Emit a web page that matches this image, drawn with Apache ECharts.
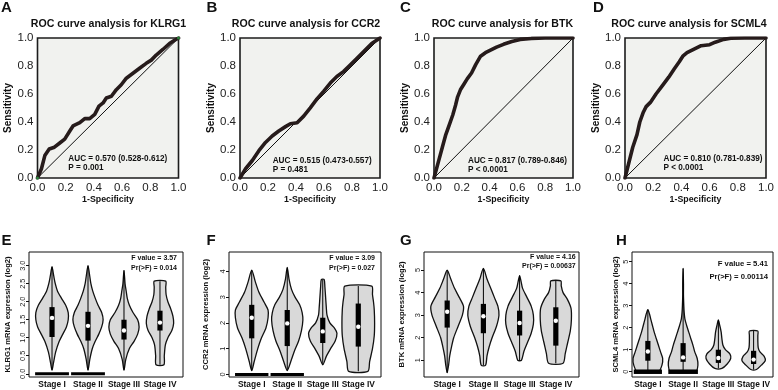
<!DOCTYPE html>
<html>
<head>
<meta charset="utf-8">
<script src="https://cdn.jsdelivr.net/npm/echarts@6/dist/echarts.min.js"></script>
<style>
html, body { margin: 0; padding: 0; background: #fff; }
#chart { width: 778px; height: 390px; }
</style>
</head>
<body>
<div id="chart"></div>
<script>
const FONT = '"Liberation Sans", Arial, Helvetica, sans-serif';

// ROC curves, points are [1-specificity, sensitivity]
const rocKLRG1 = [[0,0],[0.028,0.066],[0.052,0.16],[0.083,0.207],[0.12,0.22],[0.158,0.25],[0.193,0.278],[0.229,0.336],[0.252,0.372],[0.3,0.395],[0.335,0.424],[0.37,0.424],[0.406,0.454],[0.436,0.513],[0.465,0.536],[0.488,0.572],[0.524,0.584],[0.559,0.631],[0.594,0.666],[0.63,0.713],[0.677,0.748],[0.724,0.784],[0.771,0.819],[0.807,0.842],[0.842,0.878],[0.889,0.918],[0.936,0.96],[0.972,0.984],[1,1]];
const rocCCR2 = [[0,0],[0.04,0.066],[0.088,0.125],[0.135,0.195],[0.182,0.254],[0.23,0.3],[0.277,0.336],[0.325,0.367],[0.36,0.388],[0.408,0.395],[0.455,0.442],[0.502,0.501],[0.55,0.565],[0.597,0.619],[0.645,0.678],[0.692,0.725],[0.739,0.76],[0.787,0.807],[0.834,0.854],[0.882,0.901],[0.941,0.96],[1,1]];
const rocBTK = [[0,0],[0.03,0.11],[0.06,0.22],[0.085,0.31],[0.11,0.38],[0.135,0.45],[0.155,0.52],[0.17,0.58],[0.19,0.63],[0.215,0.67],[0.24,0.71],[0.27,0.75],[0.3,0.81],[0.335,0.87],[0.37,0.895],[0.41,0.915],[0.45,0.935],[0.5,0.955],[0.56,0.975],[0.62,0.99],[0.7,0.997],[0.8,1],[1,1]];
const rocSCML4 = [[0,0],[0.025,0.1],[0.055,0.22],[0.085,0.31],[0.105,0.4],[0.13,0.47],[0.15,0.51],[0.18,0.54],[0.22,0.6],[0.265,0.66],[0.31,0.72],[0.35,0.78],[0.385,0.83],[0.41,0.87],[0.44,0.895],[0.49,0.92],[0.54,0.945],[0.6,0.952],[0.64,0.97],[0.7,0.99],[0.75,0.998],[0.85,1],[1,1]];
const rocKLRG1Ends = [[0,0],[1,1]];
const diagonal = [[0,0],[1,1]];

const stages = ['Stage I', 'Stage II', 'Stage III', 'Stage IV'];

// violin outlines per stage, points are [log2 expression, half width]
const violinKLRG1 = [
    [[0.1,0],[0.3,0.04],[0.6,0.1],[0.9,0.2],[1.1,0.3],[1.3,0.4],[1.5,0.45],[1.7,0.45],[1.9,0.38],[2.1,0.26],[2.3,0.15],[2.5,0.09],[2.7,0.05],[2.97,0]],
    [[0.1,0],[0.4,0.05],[0.7,0.12],[0.9,0.2],[1.1,0.3],[1.3,0.38],[1.5,0.42],[1.7,0.38],[1.9,0.28],[2.1,0.2],[2.3,0.13],[2.5,0.08],[2.7,0.05],[3.0,0]],
    [[0.1,0],[0.4,0.05],[0.7,0.15],[0.9,0.28],[1.1,0.38],[1.3,0.42],[1.5,0.38],[1.7,0.25],[1.9,0.15],[2.1,0.09],[2.3,0.06],[2.5,0.03],[2.87,0]],
    [[0.25,0.11],[0.5,0.12],[0.8,0.15],[1.0,0.22],[1.2,0.33],[1.4,0.38],[1.6,0.36],[1.8,0.3],[2.0,0.22],[2.2,0.17],[2.4,0.16],[2.57,0.16]]
];
const violinCCR2 = [
    [[0.15,0],[0.5,0.07],[1.0,0.17],[1.4,0.27],[1.8,0.4],[2.2,0.46],[2.5,0.46],[2.8,0.35],[3.2,0.2],[3.6,0.1],[4.05,0]],
    [[0.15,0],[0.5,0.1],[0.9,0.2],[1.3,0.32],[1.7,0.4],[2.1,0.44],[2.4,0.42],[2.7,0.35],[3.0,0.22],[3.3,0.12],[3.7,0.05],[4.15,0]],
    [[0.37,0],[0.7,0.1],[1.0,0.22],[1.3,0.35],[1.6,0.4],[1.8,0.33],[2.0,0.2],[2.3,0.12],[2.6,0.1],[3.0,0.08],[3.4,0.06],[3.68,0.04]],
    [[0.12,0.27],[0.5,0.32],[1.0,0.4],[1.5,0.45],[2.0,0.46],[2.5,0.45],[2.8,0.43],[3.1,0.4],[3.43,0.38]]
];
const violinBTK = [
    [[0.45,0],[0.8,0.04],[1.2,0.07],[1.6,0.12],[2.0,0.18],[2.5,0.3],[3.0,0.42],[3.4,0.45],[3.8,0.33],[4.2,0.2],[4.6,0.1],[5.0,0]],
    [[0.78,0.06],[1.2,0.1],[1.6,0.16],[2.0,0.24],[2.5,0.36],[3.0,0.43],[3.4,0.4],[3.8,0.3],[4.2,0.2],[4.6,0.1],[5.07,0]],
    [[1.0,0.05],[1.4,0.12],[1.8,0.22],[2.2,0.32],[2.6,0.38],[3.0,0.38],[3.4,0.32],[3.8,0.2],[4.2,0.08],[4.5,0.04],[4.75,0]],
    [[0.87,0.2],[1.3,0.26],[1.8,0.33],[2.3,0.4],[2.8,0.43],[3.3,0.42],[3.7,0.32],[4.0,0.2],[4.3,0.15],[4.52,0.14]]
];
const violinSCML4 = [
    [[0,0.3],[0.3,0.4],[0.6,0.42],[0.9,0.36],[1.2,0.3],[1.5,0.24],[1.8,0.18],[2.1,0.13],[2.4,0.08],[2.6,0.05],[2.82,0]],
    [[0,0.36],[0.3,0.42],[0.6,0.4],[0.9,0.33],[1.2,0.28],[1.5,0.22],[1.8,0.16],[2.1,0.1],[2.4,0.05],[2.7,0.03],[3.0,0.02],[3.5,0.01],[4.0,0.01],[4.7,0]],
    [[0.15,0.1],[0.35,0.25],[0.6,0.35],[0.8,0.33],[1.0,0.2],[1.2,0.13],[1.5,0.1],[1.8,0.08],[2.1,0.04],[2.35,0]],
    [[0.1,0.08],[0.3,0.22],[0.5,0.33],[0.7,0.3],[0.9,0.18],[1.1,0.13],[1.4,0.12],[1.65,0.12],[1.85,0.12]]
];

// inner box per stage: [min, q1, median, q3, max]
const boxKLRG1 = [[0.1,1.02,1.55,1.85,2.97],[0.1,0.92,1.33,1.72,3.0],[0.1,0.95,1.2,1.5,2.87],[0.25,1.2,1.42,1.75,2.57]];
const boxCCR2 = [[0.15,1.4,2.2,2.7,4.05],[0.15,1.1,1.98,2.5,4.15],[0.37,1.22,1.67,2.2,3.68],[0.12,1.08,1.85,2.75,3.43]];
const boxBTK = [[0.45,2.45,3.15,3.65,5.0],[0.78,2.2,2.95,3.5,5.07],[1.0,2.1,2.65,3.2,4.75],[0.87,1.65,2.75,3.35,4.52]];
const boxSCML4 = [[0,0.5,0.92,1.4,2.82],[0,0.45,0.65,1.3,4.7],[0.15,0.4,0.62,1.0,2.35],[0.1,0.35,0.55,0.95,1.85]];

// piles of zero values: [stage, value, half spread]
const zerosKLRG1 = [[1,0,0.47],[2,0,0.47]];
const zerosCCR2 = [[1,0,0.47],[2,0,0.47]];
const zerosSCML4 = [[1,0,0.4],[2,0,0.42]];

const ticksKLRG1 = [0,0.5,1,1.5,2,2.5,3];
const ticksCCR2 = [0,1,2,3,4];
const ticksBTK = [1,2,3,4,5];
const ticksSCML4 = [0,1,2,3,4,5];

const rocPanels = [
    { letter: 'A', letterX: 1, gene: 'KLRG1', data: rocKLRG1, auc: 'AUC = 0.570 (0.528-0.612)', p: 'P = 0.001', left: 37.5, width: 141, titleX: 108.5, textX: 68.3, textY: 158.3 },
    { letter: 'B', letterX: 206.5, gene: 'CCR2', data: rocCCR2, auc: 'AUC = 0.515 (0.473-0.557)', p: 'P = 0.481', left: 240, width: 140, titleX: 306, textX: 272.7, textY: 160.5 },
    { letter: 'C', letterX: 400, gene: 'BTK', data: rocBTK, auc: 'AUC = 0.817 (0.789-0.846)', p: 'P < 0.0001', left: 434, width: 139, titleX: 502.5, textX: 468, textY: 160.3 },
    { letter: 'D', letterX: 593, gene: 'SCML4', data: rocSCML4, auc: 'AUC = 0.810 (0.781-0.839)', p: 'P < 0.0001', left: 625, width: 141, titleX: 689, textX: 663.5, textY: 158.7 }
];

const violinPanels = [
    { letter: 'E', letterX: 1.5, gene: 'KLRG1', profiles: violinKLRG1, box: boxKLRG1, zeros: zerosKLRG1, ticks: ticksKLRG1, digits: 1, yMin: -0.09, yMax: 3.38, xMin: 0.36, xMax: 4.64, left: 29, width: 154, f: 'F value = 3.57', pr: 'Pr(>F) = 0.014', textX: 177, textY: [258.3, 267.7], fs: 7, nameGap: 17, zeroH: 3 },
    { letter: 'F', letterX: 206.5, gene: 'CCR2', profiles: violinCCR2, box: boxCCR2, zeros: zerosCCR2, ticks: ticksCCR2, digits: 0, yMin: -0.1, yMax: 4.75, xMin: 0.36, xMax: 4.64, left: 229, width: 152, f: 'F value = 3.09', pr: 'Pr(>F) = 0.027', textX: 375, textY: [258.3, 267.7], fs: 7, nameGap: 19, zeroH: 3 },
    { letter: 'G', letterX: 400, gene: 'BTK', profiles: violinBTK, box: boxBTK, zeros: [], ticks: ticksBTK, digits: 0, yMin: 0.26, yMax: 5.8, xMin: 0.36, xMax: 4.64, left: 424, width: 155, f: 'F value = 4.16', pr: 'Pr(>F) = 0.00637', textX: 575.7, textY: [257.3, 266], fs: 7, nameGap: 18, zeroH: 3 },
    { letter: 'H', letterX: 616, gene: 'SCML4', profiles: violinSCML4, box: boxSCML4, zeros: zerosSCML4, ticks: ticksSCML4, digits: 0, yMin: -0.24, yMax: 5.44, xMin: 0.55, xMax: 4.55, left: 632, width: 141, f: 'F value = 5.41', pr: 'Pr(>F) = 0.00114', textX: 768, textY: [264, 276.7], fs: 7.7, nameGap: 12, zeroH: 4.5 }
];

const grid = [], xAxis = [], yAxis = [], series = [], texts = [];

function addText(text, x, y, size, extra) {
    texts.push({
        type: 'text', x: x, y: y, silent: true, z: 50,
        style: Object.assign({ text: text, fontFamily: FONT, fontSize: size, fontWeight: 'bold', fill: '#111', align: 'left', verticalAlign: 'middle' }, extra || {})
    });
}

rocPanels.forEach((p, i) => {
    grid.push({ left: p.left, top: 38, width: p.width, height: 140, show: true, backgroundColor: '#f1f2ef', borderColor: '#1c1c1c', borderWidth: 1.6, outerBoundsMode: 'none' });
    xAxis.push({
        type: 'value', gridIndex: i, min: 0, max: 1, interval: 0.2,
        name: '1-Specificity', nameLocation: 'middle', nameGap: 17,
        nameTextStyle: { fontFamily: FONT, fontWeight: 'bold', fontSize: 8.8, color: '#111', verticalAlign: 'top' },
        axisLine: { show: false }, axisTick: { show: false }, splitLine: { show: false },
        axisLabel: { fontFamily: FONT, fontSize: 11.5, color: '#222', margin: 4, formatter: v => v.toFixed(1) }
    });
    yAxis.push({
        type: 'value', gridIndex: i, min: 0, max: 1, interval: 0.2,
        name: 'Sensitivity', nameLocation: 'middle', nameGap: 24,
        nameTextStyle: { fontFamily: FONT, fontWeight: 'bold', fontSize: 10, color: '#111' },
        axisLine: { show: false }, axisTick: { show: false }, splitLine: { show: false },
        axisLabel: { fontFamily: FONT, fontSize: 11.5, color: '#222', margin: 4, formatter: v => v.toFixed(1) }
    });
    series.push({ type: 'line', xAxisIndex: i, yAxisIndex: i, data: diagonal, showSymbol: false, silent: true, lineStyle: { color: '#111', width: 1 }, z: 2 });
    series.push({ type: 'line', xAxisIndex: i, yAxisIndex: i, data: p.data, showSymbol: false, silent: true, lineStyle: { color: '#261b1b', width: 3.6, join: 'round', cap: 'round' }, z: 3 });
    addText(p.letter, p.letterX, 7.5, 15);
    addText('ROC curve analysis for ' + p.gene, p.titleX, 24, 10.6, { align: 'center' });
    addText(p.auc, p.textX, p.textY, 8.2);
    addText(p.p, p.textX, p.textY + 9, 8.2);
});
series.push({ type: 'scatter', xAxisIndex: 0, yAxisIndex: 0, data: rocKLRG1Ends, symbolSize: 3, itemStyle: { color: '#2e9a44' }, silent: true, z: 4 });

function violinShape(profiles) {
    return function (params, api) {
        const x = api.value(0);
        const prof = profiles[params.dataIndex];
        const pts = prof.map(d => api.coord([x + d[1], d[0]]));
        for (let k = prof.length - 1; k >= 0; k--) {
            if (prof[k][1] > 0) pts.push(api.coord([x - prof[k][1], prof[k][0]]));
        }
        return { type: 'polygon', shape: { points: pts, smooth: 0.25 }, style: { fill: '#d9d9d9', stroke: '#111', lineWidth: 1.3 } };
    };
}

function boxShape(params, api) {
    const x = api.value(0);
    const lo = api.coord([x, api.value(1)]), q1 = api.coord([x, api.value(2)]), md = api.coord([x, api.value(3)]),
        q3 = api.coord([x, api.value(4)]), hi = api.coord([x, api.value(5)]);
    return {
        type: 'group',
        children: [
            { type: 'line', shape: { x1: lo[0], y1: lo[1], x2: hi[0], y2: hi[1] }, style: { stroke: '#000', lineWidth: 1 } },
            { type: 'rect', shape: { x: q1[0] - 2.6, y: q3[1], width: 5.2, height: q1[1] - q3[1] }, style: { fill: '#000' } },
            { type: 'circle', shape: { cx: md[0], cy: md[1], r: 2.2 }, style: { fill: '#fff' } }
        ]
    };
}

function zeroShape(thick) {
    return function (params, api) {
        const x = api.value(0), hw = api.value(2);
        const a = api.coord([x - hw, api.value(1)]), b = api.coord([x + hw, api.value(1)]);
        return { type: 'rect', shape: { x: a[0], y: a[1] - thick / 2, width: b[0] - a[0], height: thick }, style: { fill: '#000' } };
    };
}

violinPanels.forEach((p, j) => {
    const i = rocPanels.length + j;
    grid.push({ left: p.left, top: 252, width: p.width, height: 125, show: true, backgroundColor: '#fff', borderColor: '#111', borderWidth: 1, outerBoundsMode: 'none' });
    xAxis.push({
        type: 'value', gridIndex: i, min: p.xMin, max: p.xMax,
        axisLine: { show: false }, axisTick: { show: false }, splitLine: { show: false },
        axisLabel: { customValues: [1, 2, 3, 4], formatter: v => stages[Math.round(v) - 1], fontFamily: FONT, fontWeight: 'bold', fontSize: 8.4, color: '#111', margin: 4 }
    });
    yAxis.push({
        type: 'value', gridIndex: i, min: p.yMin, max: p.yMax,
        name: p.gene + ' mRNA expression (log2)', nameLocation: 'middle', nameGap: p.nameGap,
        nameTextStyle: { fontFamily: FONT, fontWeight: 'bold', fontSize: 7.6, color: '#111' },
        axisLine: { show: false }, splitLine: { show: false },
        axisTick: { show: true, customValues: p.ticks, length: 3, lineStyle: { color: '#111' } },
        axisLabel: { customValues: p.ticks, rotate: 90, fontFamily: FONT, fontSize: 7.4, color: '#222', margin: 3, formatter: v => v.toFixed(p.digits) }
    });
    series.push({ type: 'custom', xAxisIndex: i, yAxisIndex: i, data: p.box.map((b, k) => [k + 1, b[2]]), renderItem: violinShape(p.profiles), silent: true, z: 2 });
    if (p.zeros.length) {
        series.push({ type: 'custom', xAxisIndex: i, yAxisIndex: i, data: p.zeros, renderItem: zeroShape(p.zeroH), silent: true, z: 3 });
    }
    series.push({ type: 'custom', xAxisIndex: i, yAxisIndex: i, data: p.box.map((b, k) => [k + 1].concat(b)), renderItem: boxShape, silent: true, z: 4 });
    addText(p.letter, p.letterX, 241, 15);
    addText(p.f, p.textX, p.textY[0], p.fs, { align: 'right' });
    addText(p.pr, p.textX, p.textY[1], p.fs, { align: 'right' });
});

const chart = echarts.init(document.getElementById('chart'));
chart.setOption({
    animation: false,
    backgroundColor: '#fff',
    grid: grid,
    xAxis: xAxis,
    yAxis: yAxis,
    series: series,
    graphic: { elements: texts }
});
</script>
</body>
</html>
